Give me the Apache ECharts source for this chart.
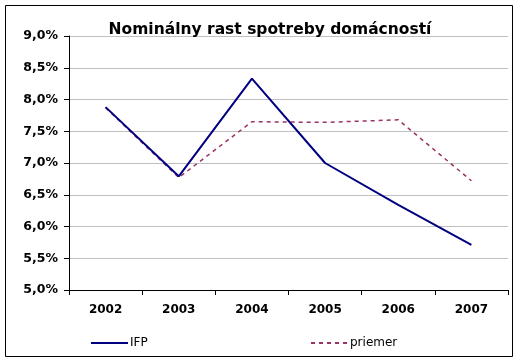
<!DOCTYPE html>
<html><head><meta charset="utf-8">
<script src="https://cdn.jsdelivr.net/npm/echarts@6/dist/echarts.min.js"></script>
<style>html,body{margin:0;padding:0;background:#fff}#c{width:524px;height:362px}</style>
</head><body><div id="c"></div>
<script>
var title = 'Nominálny rast spotreby domácností';
var categories = ['2002','2003','2004','2005','2006','2007'];
var ifp = [7.88, 6.79, 8.33, 7.00, 6.34, 5.71];
var priemer = [7.87, 6.77, 7.65, 7.64, 7.68, 6.72];
var seriesNames = ['IFP', 'priemer'];

var chart = echarts.init(document.getElementById('c'), null, {renderer:'canvas'});
var font = 'DejaVu Sans, Verdana, sans-serif';
chart.setOption({
  animation: false,
  backgroundColor: '#fff',
  title: {
    text: title, left: 265, top: 17, textAlign: 'center',
    textStyle: {fontFamily: font, fontSize: 15.5, fontWeight: 'bold', color: '#000'}
  },
  graphic: [{
    type: 'rect', shape: {x: 5.5, y: 5.5, width: 507, height: 351},
    style: {fill: 'none', stroke: '#000', lineWidth: 1}, silent: true, z: 100
  }],
  legend: [{
    data: [seriesNames[0]], left: 85, top: 332, itemWidth: 37, itemHeight: 10, itemGap: 3,
    itemStyle: {opacity: 0},
    textStyle: {fontFamily: font, fontSize: 12, color: '#000', padding: [0,0,0,-3]}
  }, {
    data: [seriesNames[1]], left: 305, top: 332, itemWidth: 37, itemHeight: 10,
    itemStyle: {opacity: 0},
    textStyle: {fontFamily: font, fontSize: 12, color: '#000', padding: [0,0,0,-3]}
  }],
  grid: {left: 69, right: 16, top: 36, bottom: 72, containLabel: false},
  xAxis: {
    type: 'category', data: categories, boundaryGap: true,
    axisLine: {lineStyle: {color: '#000', width: 1}},
    axisTick: {show: true, length: 5, lineStyle: {color: '#000'}, alignWithLabel: false},
    axisLabel: {fontFamily: font, fontSize: 12, fontWeight: 'bold', color: '#000', margin: 14}
  },
  yAxis: {
    type: 'value', min: 5, max: 9, interval: 0.5,
    axisLine: {show: true, lineStyle: {color: '#000', width: 1}},
    axisTick: {show: true, length: 5, lineStyle: {color: '#000'}},
    splitLine: {lineStyle: {color: '#c0c0c0', width: 1}},
    axisLabel: {fontFamily: font, fontSize: 12.5, fontWeight: 'bold', color: '#000', margin: 11,
      formatter: function(v){ return v.toFixed(1).replace('.', ',') + '%'; }}
  },
  series: [{
    name: seriesNames[0], type: 'line', data: ifp, symbol: 'none',
    lineStyle: {color: '#000080', width: 2}, itemStyle: {color: '#000080'}, z: 3
  }, {
    name: seriesNames[1], type: 'line', data: priemer, symbol: 'none',
    lineStyle: {color: '#993366', width: 1.5, type: [4, 4]}, itemStyle: {color: '#993366'}, z: 2
  }]
});
</script></body></html>
